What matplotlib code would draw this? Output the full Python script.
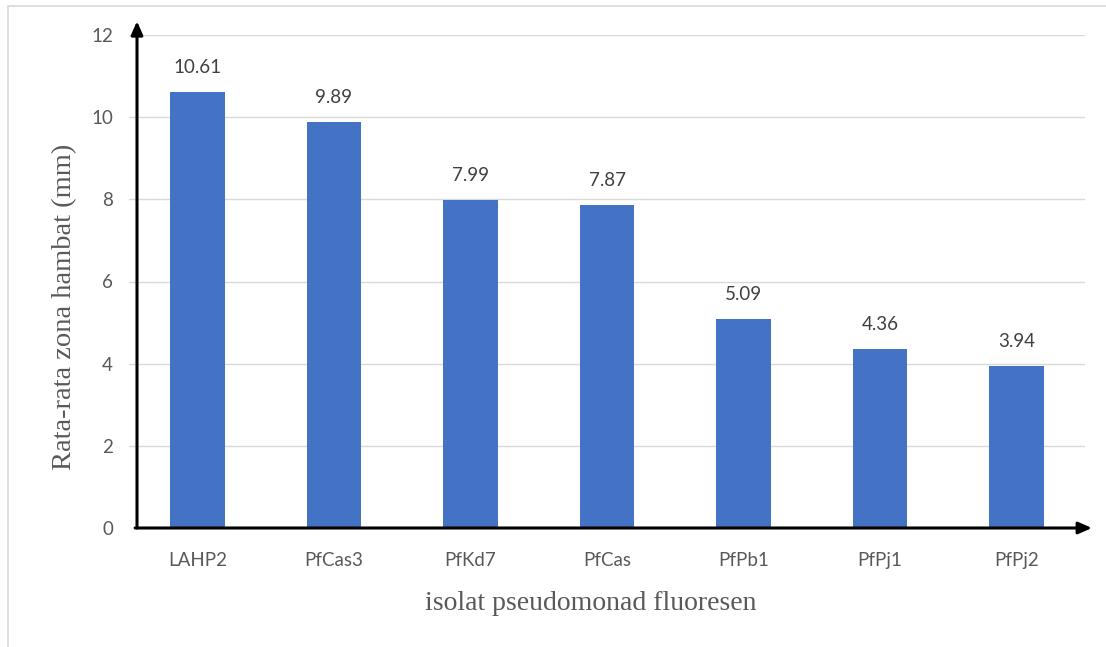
import matplotlib
matplotlib.use("Agg")
import matplotlib.pyplot as plt
from matplotlib.patches import Rectangle

# Mean inhibition zone per isolate
isolates = ["LAHP2", "PfCas3", "PfKd7", "PfCas", "PfPb1", "PfPj1", "PfPj2"]
zona_hambat = [10.61, 9.89, 7.99, 7.87, 5.09, 4.36, 3.94]
y_ticks = [0, 2, 4, 6, 8, 10, 12]

BAR = "#4472C4"
TXT = "#595959"
GRID = "#D9D9D9"
sans = ["Lato", "DejaVu Sans"]
serif = ["Liberation Serif", "DejaVu Serif"]

W, H = 1106, 647
fig = plt.figure(figsize=(W / 100, H / 100), dpi=100)
fig.patch.set_facecolor("white")

# light outer frame
fig.add_artist(Rectangle((8 / W, -0.1), 1.2, (H - 6) / H + 0.1,
                         transform=fig.transFigure, fill=False,
                         edgecolor=GRID, linewidth=1.2))

left, right, top, base = 129, 1085, 35, 528
ax = fig.add_axes([left / W, (H - base) / H, (right - left) / W, (base - top) / H])
x = range(len(isolates))
ax.bar(x, zona_hambat, width=0.40, color=BAR, zorder=2)
for xi, v in zip(x, zona_hambat):
    ax.annotate(f"{v:.2f}", (xi, v), xytext=(0, 17.5), textcoords="offset points",
                ha="center", va="center", fontsize=13.5, color="#404040", family=sans)

ax.set_xlim(-0.5, len(isolates) - 0.5)
ax.set_ylim(0, 12)
ax.set_yticks(y_ticks)
ax.set_yticklabels([str(t) for t in y_ticks], family=sans, fontsize=13.5, color=TXT)
ax.set_xticks(list(x))
ax.set_xticklabels(isolates, family=sans, fontsize=13.5, color=TXT)
ax.tick_params(axis="y", length=0, pad=11.5)
ax.tick_params(axis="x", length=0, pad=17.5)
ax.yaxis.grid(True, color=GRID, linewidth=1, zorder=0)
ax.set_axisbelow(True)
for s in ax.spines.values():
    s.set_visible(False)

# axis lines with arrow heads
x0 = (137 - left) / (right - left)
ax.annotate("", xy=(x0, 1.028), xytext=(x0, 0), xycoords="axes fraction",
            arrowprops=dict(arrowstyle="-|>,head_length=0.8,head_width=0.35",
                            color="black", lw=2.2, shrinkA=0, shrinkB=0), zorder=5)
ax.annotate("", xy=((1092 - left) / (right - left), 0), xytext=(x0 - 0.002, 0),
            xycoords="axes fraction",
            arrowprops=dict(arrowstyle="-|>,head_length=0.8,head_width=0.35",
                            color="black", lw=2.2, shrinkA=0, shrinkB=0), zorder=5)

fig.text(65 / W, 1 - 307 / H, "Rata-rata zona hambat (mm)", rotation=90,
         ha="center", va="center", fontsize=20.5, color=TXT, family=serif)
fig.text(591 / W, 1 - 603 / H, "isolat pseudomonad fluoresen",
         ha="center", va="center", fontsize=20, color=TXT, family=serif)

fig.savefig("out.png", dpi=100, facecolor="white")
